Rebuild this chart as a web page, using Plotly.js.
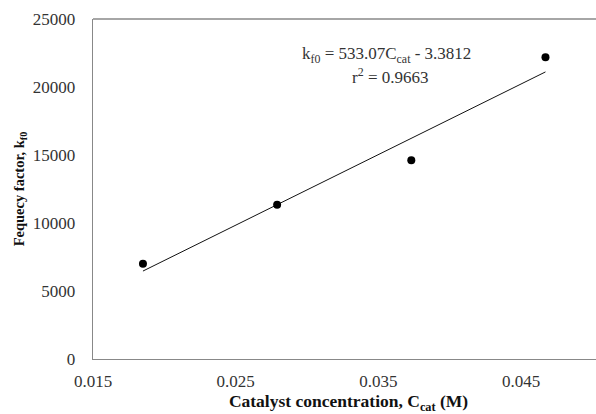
<!DOCTYPE html>
<html>
<head>
<meta charset="utf-8">
<script src="https://cdn.plot.ly/plotly-3.0.1.min.js"></script>
<style>html,body{margin:0;padding:0;background:#fff;overflow:hidden;}#wrap{width:596px;height:414px;overflow:hidden;}#chart{width:604px;height:414px;}</style>
</head>
<body>
<div id="wrap"><div id="chart"></div></div>
<script>
var catalystConc = [0.0185, 0.0279, 0.0373, 0.0467];
var freqFactor = [7000, 11350, 14620, 22180];
var equationLine1 = "k<sub>f0</sub> = 533.07C<sub>cat</sub> - 3.3812";
var equationLine2 = "r<sup>2</sup> = 0.9663";
var xTicks = [0.015, 0.025, 0.035, 0.045];
var yTicks = [0, 5000, 10000, 15000, 20000, 25000];

// least-squares trendline from the data
var n = catalystConc.length;
var mx = catalystConc.reduce(function(a,b){return a+b;},0)/n;
var my = freqFactor.reduce(function(a,b){return a+b;},0)/n;
var sxy = 0, sxx = 0;
for (var i = 0; i < n; i++) { sxy += (catalystConc[i]-mx)*(freqFactor[i]-my); sxx += Math.pow(catalystConc[i]-mx,2); }
var slope = sxy/sxx, intercept = my - slope*mx;
var trendX = [catalystConc[0], catalystConc[n-1]];
var trendY = trendX.map(function(x){return slope*x+intercept;});

var serif = "Liberation Serif, Times New Roman, serif";
var data = [
  {x: trendX, y: trendY, mode: 'lines', line: {color: '#111', width: 1}, hoverinfo: 'skip'},
  {x: catalystConc, y: freqFactor, mode: 'markers', marker: {color: '#000', size: 8}}
];
var layout = {
  width: 604, height: 414,
  margin: {l: 93, r: 0, t: 19, b: 55},
  showlegend: false,
  paper_bgcolor: '#fff', plot_bgcolor: '#fff',
  font: {family: serif, size: 17, color: '#333'},
  xaxis: {
    range: [0.015, 0.0508], tickvals: xTicks, ticktext: xTicks.map(function(v){return v.toFixed(3);}),
    showgrid: false, zeroline: false, showline: true, linecolor: '#888', linewidth: 1.3,
    ticks: '', ticklabelstandoff: 6, tickfont: {family: serif, size: 17, color: '#333'},
    title: {text: "<b>Catalyst concentration, C<sub>cat</sub> (M)</b>", font: {family: serif, size: 17.5, color: '#111'}, standoff: 8}
  },
  yaxis: {
    range: [0, 25000], tickvals: yTicks, ticktext: yTicks.map(String),
    showgrid: false, zeroline: false, showline: true, linecolor: '#888', linewidth: 1.3,
    ticks: '', ticklabelstandoff: 13, tickfont: {family: serif, size: 17, color: '#333'},
    title: {text: "<b>Fequecy factor, k<sub>f0</sub></b>", font: {family: serif, size: 14.5, color: '#111'}, standoff: 4}
  },
  shapes: [
    {type: 'line', xref: 'paper', yref: 'paper', x0: 0, x1: 1, y0: 1, y1: 1, line: {color: '#888', width: 1.3}}
  ],
  annotations: [
    {xref: 'paper', yref: 'paper', x: 0.575, y: 0.893, xanchor: 'center', yanchor: 'middle', showarrow: false,
     text: equationLine1, font: {family: serif, size: 17, color: '#333'}},
    {xref: 'paper', yref: 'paper', x: 0.582, y: 0.832, xanchor: 'center', yanchor: 'middle', showarrow: false,
     text: equationLine2, font: {family: serif, size: 17, color: '#333'}}
  ]
};
Plotly.newPlot('chart', data, layout, {displayModeBar: false, staticPlot: true});
</script>
</body>
</html>
